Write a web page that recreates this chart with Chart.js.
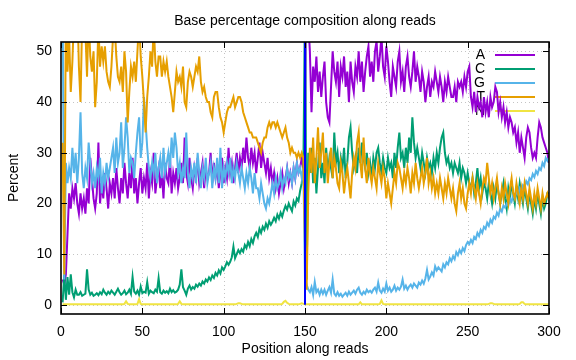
<!DOCTYPE html>
<html>
<head>
<meta charset="utf-8">
<script src="https://cdn.jsdelivr.net/npm/chart.js@4/dist/chart.umd.min.js"></script>
<style>
  html, body { margin: 0; padding: 0; background: #ffffff; }
  #wrap { width: 576px; height: 360px; }
</style>
</head>
<body>
<div id="wrap"><canvas id="c" width="576" height="360"></canvas></div>
<script>
// ---- Data ----
const chartTitle = "Base percentage composition along reads";
const xTitle = "Position along reads";
const yTitle = "Percent";
const seriesNames = ["A", "C", "G", "T", "N"];
const xTickValues = [0, 50, 100, 150, 200, 250, 300];
const yTickValues = [0, 10, 20, 30, 40, 50];
const readBoundary = [150];

const baseA = [
  5, 4, 6, 14, 22, 19, 23, 21, 24, 20,
  18, 22, 19, 21, 18, 23, 20, 29, 25, 21,
  19, 22, 32, 20, 24, 21, 26, 23, 19, 24,
  22, 25, 21, 27, 23, 20, 25, 22, 28, 24,
  21, 26, 23, 29, 22, 25, 20, 24, 27, 22,
  25, 23, 28, 21, 26, 24, 30, 22, 25, 27,
  23, 26, 21, 28, 25, 24, 29, 22, 26, 24,
  27, 23, 25, 28, 24, 33, 26, 24, 29, 25,
  23, 27, 25, 29, 24, 26, 28, 23, 27, 25,
  26, 30, 24, 28, 25, 27, 23, 26, 29, 24,
  27, 25, 31, 26, 28, 24, 27, 30, 26, 29,
  27, 31, 28, 33, 29, 27, 31, 28, 30, 26,
  29, 32, 27, 30, 28, 26, 29, 25, 27, 24,
  26, 23, 25, 22, 24, 26, 23, 25, 27, 24,
  26, 24, 27, 25, 28, 26, 27, 29, 27, 28,
  85, 56, 50, 38, 47, 44, 49, 42, 46, 41,
  45, 48, 40, 37, 36, 43, 50, 46, 44, 48,
  41, 47, 45, 49, 43, 46, 40, 48, 44, 42,
  47, 45, 50, 44, 48, 42, 46, 49, 51, 45,
  48, 44, 50, 52, 46, 49, 53, 47, 45, 51,
  48, 44, 41, 47, 45, 43, 48, 50, 44, 46,
  42, 47, 49, 45, 43, 46, 50, 44, 47, 45,
  42, 46, 44, 40, 43, 45, 41, 44, 43, 46,
  44, 42, 45, 43, 40, 44, 42, 45, 43, 41,
  41, 43, 40, 44, 43, 44, 42, 45, 43, 46,
  47, 41, 39, 42, 38, 41, 39, 40, 37, 41,
  38, 40, 37, 41, 39, 40, 43, 42, 38, 40,
  37, 39, 36, 38, 35, 37, 36, 34, 35, 32,
  34, 30, 33, 31, 29, 33, 35, 34, 31, 29,
  30, 29, 33, 36, 35, 33, 32, 31, 30, 28
];

const baseC = [
  0.5, 6, 1, 5.5, 2, 6, 2.5, 1.5, 3, 2,
  2, 2.5, 1.8, 2, 2.2, 7, 3, 2, 2.4, 1.8,
  2, 2.3, 1.9, 2.5, 2.1, 3, 2.4, 2, 2.6, 2.2,
  2.8, 2.4, 2, 2.6, 3.2, 2.5, 2, 2.3, 2.8, 2.1,
  2.4, 3, 2.2, 5.5, 2.6, 2.2, 2.8, 2, 3.6, 2.3,
  2.6, 2.4, 4.5, 2.2, 2.8, 2.5, 2.3, 3, 2.6, 5.3,
  2.5, 2.2, 2.8, 2.4, 2.7, 2.3, 3.2, 2.5, 2.9, 2.4,
  2.6, 3, 4, 7, 3.5, 2.8, 2, 3.2, 3.8, 3,
  3.5, 3.2, 4, 3.6, 4.2, 3.8, 4.6, 4.2, 5, 4.6,
  5.4, 4.9, 5.8, 5.3, 6.3, 5.8, 6.8, 6.2, 7.4, 6.9,
  7.6, 8.4, 7.9, 8.5, 9.4, 11.5, 9.2, 10, 10.8, 10.2,
  11, 10.5, 11.8, 11.2, 12.4, 11.6, 13, 12.2, 13.5, 14.2,
  13.4, 15, 14.2, 15.4, 14.8, 16, 15.2, 16.5, 15.8, 16.4,
  17.2, 16.5, 17.8, 17, 18.2, 17.4, 18.6, 19.5, 18.8, 20,
  19.2, 18.5, 20.4, 19.6, 21, 20.5, 22.5, 24, 27, 60,
  5, 30, 26, 31, 24, 29, 22, 27, 32, 25,
  28, 24, 31, 26, 29, 27, 25, 34, 28, 30,
  26, 29, 27, 31, 25, 28, 33, 35, 30, 27,
  29, 26, 31, 28, 32, 29, 27, 30, 26, 28,
  25, 29, 27, 30, 31, 28, 26, 29, 27, 26,
  29, 27, 28, 25, 30, 27, 31, 34, 29, 30,
  27, 31, 28, 33, 30, 37, 32, 29, 31, 29,
  27, 30, 28, 26, 29, 27, 28, 26, 29, 27,
  30, 28, 31, 33, 34, 30, 28, 29, 27, 28,
  26, 28, 27, 26, 28, 25, 27, 26, 24, 26,
  24, 23, 25, 22, 24, 27, 23, 25, 22, 24,
  23, 21, 24, 22, 20, 23, 21, 24, 22, 20,
  22, 24, 21, 19, 23, 21, 24, 22, 20, 23,
  21, 24, 22, 20, 23, 21, 19, 22, 20, 18,
  21, 19, 22, 20, 18, 21, 19, 20, 22, 22
];

const baseG = [
  60, 5, 28, 24, 27, 25, 31, 26, 30, 24,
  29, 38, 26, 23, 27, 25, 32, 28, 24, 26,
  23, 27, 25, 29, 22, 26, 24, 28, 25, 27,
  29, 31, 26, 33, 28, 30, 36, 27, 31, 37,
  33, 26, 29, 28, 25, 30, 34, 37, 29, 32,
  41, 36, 31, 27, 25, 28, 26, 30, 24, 27,
  29, 25, 31, 26, 28, 30, 27, 33, 29, 34,
  31, 26, 28, 24, 27, 25, 34, 26, 23, 27,
  25, 28, 24, 30, 26, 23, 27, 25, 29, 24,
  26, 28, 23, 27, 25, 29, 24, 31, 23, 27,
  25, 28, 26, 29, 24, 27, 25, 28, 26, 24,
  27, 25, 23, 26, 24, 27, 25, 22, 26, 23,
  23, 21, 24, 22, 20, 19, 21, 20, 22, 24,
  22, 25, 23, 24, 26, 23, 25, 24, 27, 25,
  26, 24, 27, 25, 28, 26, 27, 25, 27, 5,
  4, 3, 2.5, 3.5, 2, 4.5, 2.5, 3, 2, 3,
  2.2, 3, 2, 2.8, 3.5, 2.4, 5, 2.2, 1.8, 2.5,
  1.8, 2.2, 1.6, 2, 2.4, 1.8, 2.6, 2, 2.4, 2.8,
  2.2, 3, 3.4, 2.4, 2, 2.6, 2.2, 3, 2.5, 2.8,
  2.4, 3, 3.4, 2.6, 4.4, 2.8, 2.4, 3.2, 2.6, 4.2,
  2.8, 3.4, 2.6, 3, 3.8, 2.8, 3.4, 3, 3.6, 5,
  3.2, 3.8, 3, 3.6, 4, 3.4, 4.2, 3.8, 3.4, 4.4,
  4, 4.8, 4.2, 5.2, 6.9, 5, 5.6, 6.4, 5.8, 7.6,
  6.8, 7.4, 7, 6.6, 8, 7.4, 8.4, 8, 9.2, 8.6,
  9.6, 9, 10.4, 9.8, 10.8, 10.2, 11.2, 10.6, 11.8, 12.4,
  12, 12.8, 12.2, 13.4, 13, 14.2, 13.6, 14.8, 14.2, 15.4,
  15, 16.2, 15.6, 16.8, 16.2, 17.4, 17, 18.2, 17.6, 19,
  18.4, 19.6, 19.2, 20, 19.6, 21, 20.4, 21.6, 21, 22.4,
  21.8, 23, 22.4, 23.6, 23.2, 24.4, 23.8, 25, 24.6, 25.8,
  25.2, 26.4, 25.8, 27, 26.6, 28, 27.4, 29, 28.4, 29
];

const baseT = [
  32, 6, 58, 46, 53, 42, 48, 57, 55, 60,
  47, 40, 56, 58, 54, 45, 57, 49, 46, 50,
  39, 44, 55, 47, 51, 48, 51, 46, 44, 43,
  47, 53, 55, 49, 45, 44, 47, 42, 50, 46,
  36, 42, 47, 45, 48, 44, 50, 56, 49, 45,
  40, 34, 41, 45, 50, 47, 55, 48, 45, 49,
  49, 45, 48, 46, 48, 45, 43, 41, 38, 42,
  46, 44, 45, 43, 47, 40, 39, 44, 46, 45,
  43, 45, 47, 46, 49, 44, 42, 43, 41, 40,
  40, 38, 37, 41, 42, 42, 39, 37, 36, 34,
  36, 38, 39, 39, 40, 41, 39, 40, 41, 41,
  40, 38, 37, 36, 35, 34, 34, 33, 33, 33,
  32, 31, 30, 32, 33, 33, 35, 36, 35, 36,
  36, 35, 36, 35, 34, 33, 34, 35, 33, 32,
  30, 31, 30, 30, 29, 30, 29, 30, 29, 12,
  3, 22, 31, 26, 33, 24, 29, 35, 27, 30,
  34, 26, 30, 24, 28, 31, 25, 29, 27, 24,
  23, 28, 26, 22, 25, 27, 24, 21, 26, 29,
  27, 32, 34, 28, 25, 33, 27, 24, 29, 26,
  24, 27, 25, 23, 28, 26, 24, 27, 25, 21,
  24, 22, 20, 23, 26, 24, 28, 27, 25, 23,
  26, 24, 27, 25, 22, 26, 24, 28, 25, 23,
  25, 27, 24, 26, 29, 24, 26, 23, 25, 22,
  24, 22, 25, 23, 21, 24, 22, 25, 23, 21,
  23, 20, 18.5, 22, 24, 21, 23, 20, 19, 22,
  24, 22, 25, 23, 21, 24, 22, 20, 23, 25,
  24, 28, 25, 22, 24, 21, 23, 25, 22, 20,
  23, 21, 24, 22, 20, 23, 25, 22, 21, 24,
  22, 20, 23, 21, 24, 22, 20, 23, 21, 19,
  22, 20, 23, 21, 19, 22, 20, 21, 22, 21
];

const baseN = [
  0.1, 0.1, 0.1, 0.1, 0.1, 0.1, 0.1, 0.1, 0.1, 0.1,
  0.1, 0.1, 0.1, 0.1, 0.1, 0.1, 0.1, 0.1, 0.1, 0.1,
  0.1, 0.1, 0.1, 0.1, 0.1, 0.1, 0.1, 0.1, 0.1, 0.1,
  0.1, 0.1, 0.1, 0.1, 0.1, 0.1, 0.1, 0.1, 0.2, 0.7,
  0.2, 0.1, 0.1, 0.1, 0.1, 0.1, 0.2, 1.1, 0.2, 0.1,
  0.1, 0.1, 0.1, 0.1, 0.1, 0.1, 0.1, 0.1, 0.1, 0.1,
  0.1, 0.1, 0.1, 0.1, 0.1, 0.1, 0.1, 0.1, 0.1, 0.1,
  0.1, 0.2, 0.7, 0.2, 0.1, 0.1, 0.1, 0.1, 0.1, 0.1,
  0.1, 0.1, 0.1, 0.1, 0.1, 0.1, 0.1, 0.1, 0.1, 0.1,
  0.1, 0.1, 0.1, 0.1, 0.1, 0.1, 0.1, 0.1, 0.1, 0.1,
  0.1, 0.1, 0.1, 0.1, 0.1, 0.1, 0.1, 0.2, 0.3, 0.3,
  0.2, 0.1, 0.1, 0.1, 0.1, 0.1, 0.1, 0.1, 0.1, 0.1,
  0.1, 0.1, 0.1, 0.1, 0.1, 0.1, 0.1, 0.1, 0.1, 0.1,
  0.1, 0.1, 0.1, 0.1, 0.1, 0.2, 0.6, 0.8, 0.4, 0.2,
  0.1, 0.1, 0.1, 0.1, 0.1, 0.1, 0.2, 0.3, 0.2, 0.1,
  0.1, 0.1, 0.1, 0.1, 0.1, 0.1, 0.1, 0.1, 0.1, 0.1,
  0.1, 0.1, 0.1, 0.1, 0.1, 0.1, 0.1, 0.1, 0.1, 0.1,
  0.1, 0.1, 0.1, 0.1, 0.1, 0.1, 0.1, 0.1, 0.1, 0.1,
  0.1, 0.1, 0.1, 0.5, 0.1, 0.1, 0.1, 0.1, 0.1, 0.1,
  0.1, 0.1, 0.1, 0.1, 0.1, 0.2, 0.9, 0.2, 0.1, 0.1,
  0.1, 0.1, 0.1, 0.1, 0.1, 0.1, 0.1, 0.1, 0.1, 0.1,
  0.1, 0.1, 0.1, 0.1, 0.1, 0.1, 0.1, 0.1, 0.1, 0.1,
  0.1, 0.1, 0.1, 0.1, 0.1, 0.1, 0.1, 0.1, 0.1, 0.1,
  0.1, 0.1, 0.1, 0.1, 0.1, 0.1, 0.1, 0.1, 0.1, 0.1,
  0.1, 0.1, 0.1, 0.1, 0.1, 0.1, 0.1, 0.1, 0.1, 0.1,
  0.1, 0.1, 0.1, 0.1, 0.1, 0.1, 0.1, 0.1, 0.1, 0.1,
  0.1, 0.1, 0.2, 0.3, 0.3, 0.2, 0.1, 0.1, 0.1, 0.1,
  0.1, 0.1, 0.1, 0.1, 0.1, 0.1, 0.1, 0.1, 0.1, 0.1,
  0.1, 0.2, 0.5, 0.5, 0.2, 0.1, 0.1, 0.1, 0.1, 0.1,
  0.1, 0.1, 0.1, 0.1, 0.1, 0.1, 0.1, 0.1, 0.1, 0.1
];

const positions = baseA.map((_, i) => i + 1);

// ---- Styling ----
const FONT = "'Liberation Sans', Arial, sans-serif";
const colors = ["#9400d3", "#009e73", "#56b4e9", "#e69f00", "#f0e442"];
const seriesValues = [baseA, baseC, baseG, baseT, baseN];

const datasets = seriesNames.map((name, k) => ({
  label: name,
  data: positions.map((p, i) => ({ x: p, y: seriesValues[k][i] })),
  borderColor: colors[k],
  backgroundColor: colors[k],
  borderWidth: 2,
  pointRadius: 0,
  tension: 0,
  fill: false,
  clip: 0,
  order: seriesNames.length - k
}));

const frameTitlePlugin = {
  id: "frameTitle",
  beforeDatasetsDraw(chart) {
    const { ctx, chartArea: a, scales } = chart;
    ctx.save();
    // dotted grid
    ctx.strokeStyle = "#c4c4c4";
    ctx.lineWidth = 1;
    ctx.setLineDash([1, 3]);
    xTickValues.forEach(v => {
      const x = Math.round(scales.x.getPixelForValue(v)) + 0.5;
      if (x <= a.left + 1 || x >= a.right - 1) return;
      ctx.beginPath(); ctx.moveTo(x, a.bottom); ctx.lineTo(x, a.top); ctx.stroke();
    });
    yTickValues.forEach(v => {
      const y = Math.round(scales.y.getPixelForValue(v)) + 0.5;
      ctx.beginPath(); ctx.moveTo(a.left, y); ctx.lineTo(a.right, y); ctx.stroke();
    });
    ctx.setLineDash([]);
    // key (legend), inside top-right
    ctx.font = "14px " + FONT;
    ctx.textAlign = "right";
    ctx.textBaseline = "middle";
    const kx = a.right - 64, ky = a.top + 13;
    chart.data.datasets.forEach((ds, k) => {
      const y = ky + k * 14;
      ctx.fillStyle = "#000";
      ctx.fillText(ds.label, kx, y);
      ctx.strokeStyle = ds.borderColor;
      ctx.lineWidth = 2;
      ctx.beginPath();
      ctx.moveTo(kx + 10, y);
      ctx.lineTo(kx + 50, y);
      ctx.stroke();
    });
    ctx.restore();
  },
  afterDatasetsDraw(chart) {
    const { ctx, chartArea: a, scales } = chart;
    ctx.save();
    // read boundary marker
    ctx.strokeStyle = "#0000ff";
    ctx.lineWidth = 2;
    readBoundary.forEach(b => {
      const x = scales.x.getPixelForValue(b);
      ctx.beginPath();
      ctx.moveTo(x, scales.y.getPixelForValue(0));
      ctx.lineTo(x, a.top);
      ctx.stroke();
    });
    ctx.restore();
  },
  afterDraw(chart) {
    const { ctx, chartArea: a, scales } = chart;
    ctx.save();
    // inward ticks on all four sides
    ctx.strokeStyle = "#000";
    ctx.lineWidth = 1;
    const tl = 6;
    xTickValues.forEach(v => {
      const x = Math.round(scales.x.getPixelForValue(v)) + 0.5;
      ctx.beginPath();
      ctx.moveTo(x, a.bottom); ctx.lineTo(x, a.bottom - tl);
      ctx.moveTo(x, a.top); ctx.lineTo(x, a.top + tl);
      ctx.stroke();
    });
    yTickValues.forEach(v => {
      const y = Math.round(scales.y.getPixelForValue(v)) + 0.5;
      ctx.beginPath();
      ctx.moveTo(a.left, y); ctx.lineTo(a.left + tl, y);
      ctx.moveTo(a.right, y); ctx.lineTo(a.right - tl, y);
      ctx.stroke();
    });
    // border
    ctx.lineWidth = 1.6;
    ctx.strokeRect(a.left, a.top, a.right - a.left, a.bottom - a.top);
    // title
    ctx.fillStyle = "#000";
    ctx.font = "14px " + FONT;
    ctx.textAlign = "center";
    ctx.textBaseline = "middle";
    ctx.fillText(chartTitle, (a.left + a.right) / 2, 21.5);
    ctx.restore();
  }
};

new Chart(document.getElementById("c"), {
  type: "line",
  data: { datasets },
  options: {
    responsive: false,
    animation: false,
    devicePixelRatio: 1,
    layout: { padding: { top: 42, right: 27, bottom: 0, left: 0 } },
    plugins: { legend: { display: false }, tooltip: { enabled: false }, title: { display: false } },
    scales: {
      x: {
        type: "linear",
        min: 0, max: 300,
        afterFit: s => { s.height = 46; },
        afterBuildTicks: s => { s.ticks = xTickValues.map(v => ({ value: v })); },
        ticks: { padding: 10, color: "#000", font: { family: FONT, size: 14 }, maxRotation: 0, autoSkip: false },
        grid: { display: false, drawTicks: false },
        border: { display: false },
        title: { display: true, text: xTitle, color: "#000", font: { family: FONT, size: 14 }, padding: { top: 0, bottom: 2 } }
      },
      y: {
        type: "linear",
        min: -1.8, max: 51.85,
        afterFit: s => { s.width = 61; },
        afterBuildTicks: s => { s.ticks = yTickValues.map(v => ({ value: v })); },
        ticks: { padding: 9, color: "#000", font: { family: FONT, size: 14 }, autoSkip: false },
        grid: { display: false, drawTicks: false },
        border: { display: false },
        title: { display: true, text: yTitle, color: "#000", font: { family: FONT, size: 14 }, padding: { top: 6, bottom: 0 } }
      }
    }
  },
  plugins: [frameTitlePlugin]
});
</script>
</body>
</html>
